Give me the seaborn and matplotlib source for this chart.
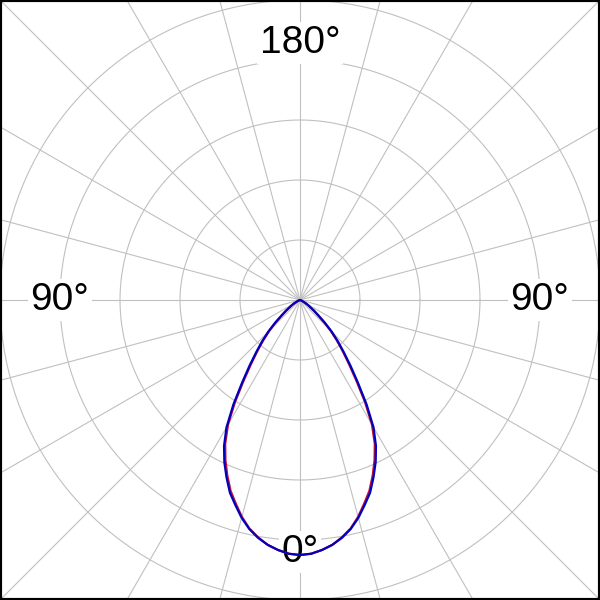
import numpy as np
import pandas as pd
import matplotlib.pyplot as plt
import seaborn as sns

# Polar intensity curve, half-plane angles from nadir (degrees)
angles = [0, 2.5, 5, 7.5, 10, 12.5, 15, 17.5, 20, 22.5, 25, 27.5, 30, 32.5, 35, 37.5,
          40, 42.5, 45, 47.5, 50, 52.5, 55, 57.5, 60, 65, 70, 75, 80, 85, 90]
# C0-C180 plane (blue) and C90-C270 plane (red), same units as the grid rings
blue_vals = [255, 254, 251, 247, 241.5, 234.5, 225.5, 215, 205, 192, 179, 164.5, 147, 124, 101, 83,
             68, 56, 45, 34, 24, 18, 13, 10, 7, 3, 1, 0, 0, 0, 0]
red_vals = [255, 254, 251, 247, 241, 234, 224.5, 213.5, 203, 190, 176.5, 162, 144, 121, 98, 80,
            66, 54, 43, 32, 23, 17, 12, 9, 6, 3, 1, 0, 0, 0, 0]

ring_values = [60, 120, 180, 240, 300]
spoke_step = 15
angle_labels = {"0°": (0, -252), "180°": (0, 257), "90° ": (-240, 0), " 90°": (240, 0)}

sns.set_style("white")
plt.rcParams['font.family'] = ['Liberation Sans', 'DejaVu Sans']


def to_frame(vals, name):
    # mirror the half curve to both sides of the nadir
    th = np.array([-a for a in angles[::-1]] + angles[1:], dtype=float)
    r = np.array(vals[::-1] + vals[1:], dtype=float)
    rad = np.deg2rad(th)
    return pd.DataFrame({'x': r * np.sin(rad), 'y': -r * np.cos(rad), 'plane': name})


fig = plt.figure(figsize=(6, 6), dpi=100)
ax = fig.add_axes([0, 0, 1, 1])

# grid: spokes and rings
for a in range(0, 360, spoke_step):
    t = np.deg2rad(a)
    ax.plot([0, 600 * np.cos(t)], [0, 600 * np.sin(t)], color='#c0c0c0', lw=0.8, zorder=1)
circ = np.linspace(0, 2 * np.pi, 361)
for rv in ring_values:
    ax.plot(rv * np.cos(circ), rv * np.sin(circ), color='#c0c0c0', lw=0.8, zorder=1)

df = pd.concat([to_frame(red_vals, 'red'), to_frame(blue_vals, 'blue')])
sns.lineplot(data=df, x='x', y='y', hue='plane', palette={'red': '#c8102e', 'blue': '#0000c0'},
             sort=False, estimator=None, lw=1.6, legend=False, ax=ax, zorder=3)

for txt, (tx, ty) in angle_labels.items():
    ax.text(tx, ty, txt.strip(), fontsize=28, color='black', ha='center', va='center', zorder=2,
            bbox=dict(facecolor='white', edgecolor='none', pad=2))

ax.set_xlim(-300, 300)
ax.set_ylim(-300, 300)
ax.set_aspect('equal')
ax.set_xticks([])
ax.set_yticks([])
ax.set_xlabel('')
ax.set_ylabel('')
for s in ax.spines.values():
    s.set_visible(True)
    s.set_color('black')
    s.set_linewidth(3)

fig.savefig('out.png', dpi=100)
